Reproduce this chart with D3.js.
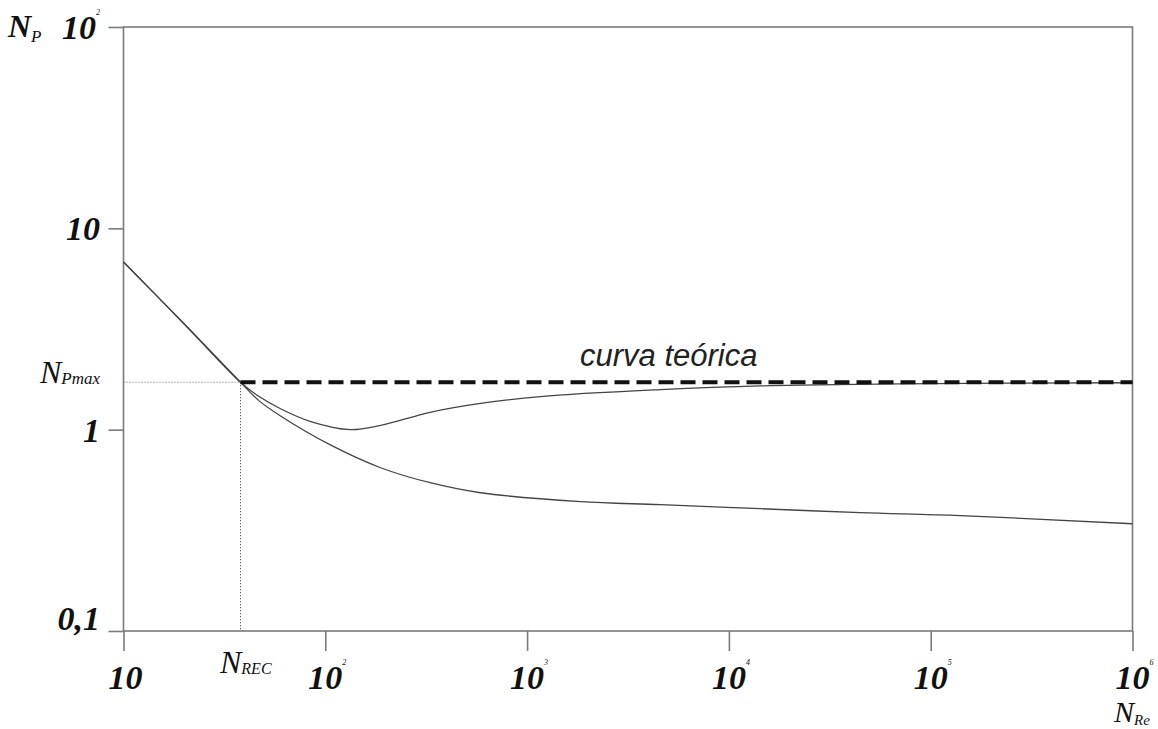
<!DOCTYPE html>
<html>
<head>
<meta charset="utf-8">
<script src="https://cdn.jsdelivr.net/npm/d3@7"></script>
<style>
  body { margin: 0; background: #fff; }
  .num { font-family: "Liberation Serif", "Times New Roman", serif; font-style: italic; font-weight: bold; }
  .sym { font-family: "Liberation Serif", "Times New Roman", serif; font-style: italic; }
</style>
</head>
<body>
<div class="chart"></div>
<script>
// data
const xTicks = [10, 1e2, 1e3, 1e4, 1e5, 1e6]
const xTickExp = ["", "2", "3", "4", "5", "6"]
const yTicks = [0.1, 1, 10, 100]
const yTickLabels = ["0,1", "1", "10", "10"]
const yTickExp = ["", "", "", "2"]

const nRec = 38
const npMax = 1.72

// curve with the minimum (upper)
const upperRe = [10, 20, 38, 47, 60, 84, 133, 188, 331, 587, 1164, 4570, 14300, 70800, 1e6]
const upperNp = [6.8, 3.35, 1.72, 1.46, 1.27, 1.1, 1.0, 1.05, 1.22, 1.35, 1.46, 1.58, 1.65, 1.69, 1.71]

// lower curve
const lowerRe = [10, 20, 38, 47, 60, 106, 188, 331, 587, 1840, 4570, 14300, 44900, 140600, 1e6]
const lowerNp = [6.8, 3.35, 1.72, 1.39, 1.17, 0.84, 0.647, 0.545, 0.486, 0.439, 0.424, 0.405, 0.387, 0.374, 0.341]

const width = 1158
const height = 729

const svg = d3.select(".chart")
    .append("svg")
    .attr("width", width)
    .attr("height", height)

// scales
const x = d3.scaleLog().domain([10, 1e6]).range([123.5, 1132.5])
const y = d3.scaleLog().domain([0.1, 100]).range([631, 27])

const axisColor = "#7a7a7a"

// frame
svg.append("rect")
    .attr("x", x(10)).attr("y", y(100))
    .attr("width", x(1e6) - x(10)).attr("height", y(0.1) - y(100))
    .attr("fill", "none").attr("stroke", axisColor).attr("stroke-width", 1.6)

// ticks
const xAxis = svg.append("g")
    .attr("transform", "translate(0," + y(0.1) + ")")
    .call(d3.axisBottom(x).tickValues(xTicks).tickSizeInner(20).tickSizeOuter(0).tickFormat(""))
xAxis.select(".domain").remove()
xAxis.selectAll("line").attr("stroke", axisColor).attr("stroke-width", 1.6)

const yAxis = svg.append("g")
    .attr("transform", "translate(" + x(10) + ",0)")
    .call(d3.axisLeft(y).tickValues(yTicks).tickSizeInner(15).tickSizeOuter(0).tickFormat(""))
yAxis.select(".domain").remove()
yAxis.selectAll("line").attr("stroke", axisColor).attr("stroke-width", 1.6)

// dotted guides
svg.append("line")
    .attr("x1", x(10)).attr("x2", x(nRec))
    .attr("y1", y(npMax)).attr("y2", y(npMax))
    .attr("stroke", "#666").attr("stroke-width", 1).attr("stroke-dasharray", "1,2")
svg.append("line")
    .attr("x1", x(nRec)).attr("x2", x(nRec))
    .attr("y1", y(npMax)).attr("y2", y(0.1))
    .attr("stroke", "#333").attr("stroke-width", 1).attr("stroke-dasharray", "1,2")

// curves
const line = d3.line()
    .x(d => x(d[0]))
    .y(d => y(d[1]))
    .curve(d3.curveCatmullRom.alpha(0.5))

svg.append("path")
    .datum(upperRe.map((r, i) => [r, upperNp[i]]))
    .attr("d", line)
    .attr("fill", "none").attr("stroke", "#444").attr("stroke-width", 1.3)

svg.append("path")
    .datum(lowerRe.map((r, i) => [r, lowerNp[i]]))
    .attr("d", line)
    .attr("fill", "none").attr("stroke", "#444").attr("stroke-width", 1.3)

// theoretical curve
svg.append("line")
    .attr("x1", x(nRec)).attr("x2", x(1e6))
    .attr("y1", y(npMax)).attr("y2", y(npMax))
    .attr("stroke", "#111").attr("stroke-width", 4).attr("stroke-dasharray", "15,7")

svg.append("text")
    .attr("x", 580).attr("y", 366)
    .attr("font-family", "Liberation Sans, Arial, sans-serif")
    .attr("font-style", "italic")
    .attr("font-size", 31)
    .attr("fill", "#222")
    .text("curva teórica")

// x tick labels
xTicks.forEach((t, i) => {
    const g = svg.append("text")
        .attr("class", "num")
        .attr("x", x(t) + 2).attr("y", 689)
        .attr("text-anchor", "middle")
        .attr("font-size", 34)
        .attr("fill", "#111")
    g.append("tspan").text("10")
    if (xTickExp[i]) {
        g.append("tspan").attr("font-size", 8).attr("font-weight", "normal").attr("dy", -24).text(xTickExp[i])
    }
})

// y tick labels
yTicks.forEach((t, i) => {
    const g = svg.append("text")
        .attr("class", "num")
        .attr("x", 100).attr("y", t === 0.1 ? 630 : y(t) + 12)
        .attr("text-anchor", "end")
        .attr("font-size", 34)
        .attr("fill", "#111")
    g.append("tspan").text(yTickLabels[i])
    if (yTickExp[i]) {
        g.append("tspan").attr("font-size", 8).attr("font-weight", "normal").attr("dy", -24).text(yTickExp[i])
    }
})

// axis symbols
const np = svg.append("text").attr("class", "num").attr("x", 8).attr("y", 37).attr("font-size", 32).attr("fill", "#111")
np.append("tspan").text("N")
np.append("tspan").attr("font-size", 17).attr("font-weight", "normal").attr("dy", 5).text("P")

const npm = svg.append("text").attr("class", "sym").attr("x", 40).attr("y", 383).attr("font-size", 32).attr("fill", "#111")
npm.append("tspan").text("N")
npm.append("tspan").attr("font-size", 17).attr("dy", 1).text("Pmax")

const nrec = svg.append("text").attr("class", "sym").attr("x", 220).attr("y", 673).attr("font-size", 32).attr("fill", "#111")
nrec.append("tspan").text("N")
nrec.append("tspan").attr("font-size", 16).attr("dy", 1).text("REC")

const nre = svg.append("text").attr("class", "sym").attr("x", 1114).attr("y", 722).attr("font-size", 30).attr("fill", "#111")
nre.append("tspan").text("N")
nre.append("tspan").attr("font-size", 15).attr("dy", 3).text("Re")
</script>
</body>
</html>
